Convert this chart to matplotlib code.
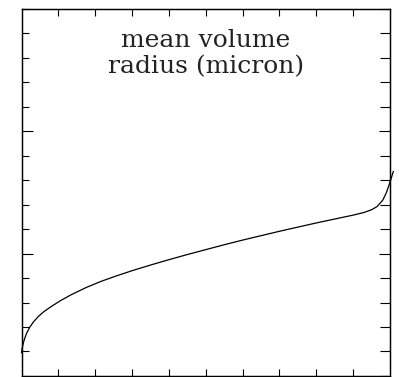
import numpy as np
from matplotlib import pyplot as plt
from matplotlib.ticker import MultipleLocator

# mean volume radius along the normalised coordinate
position = [0.0, 0.02, 0.05, 0.09, 0.14, 0.22, 0.32, 0.45, 0.6, 0.8, 1.05,
            1.35, 1.75, 2.15, 2.6, 3.0, 3.5, 4.0, 4.5, 5.0, 5.5, 6.0, 6.5,
            7.0, 7.5, 8.0, 8.5, 9.0, 9.3, 9.5, 9.65, 9.8, 9.9, 9.97, 10.03,
            10.09]
radius = [0.95, 1.15, 1.35, 1.55, 1.75, 1.98, 2.2, 2.42, 2.62, 2.83, 3.07,
          3.32, 3.61, 3.86, 4.1, 4.3, 4.53, 4.75, 4.96, 5.16, 5.36, 5.55,
          5.73, 5.91, 6.08, 6.25, 6.41, 6.57, 6.68, 6.79, 6.92, 7.17, 7.48,
          7.78, 8.06, 8.35]

x_ticks = np.arange(1, 10)
y_major = [5, 10]
title_lines = ["mean volume", "radius (micron)"]

fig = plt.figure(figsize=(3.99, 3.77), dpi=100)
ax = fig.add_axes([0.0539, 0.0027, 0.9235, 0.9742])

ax.plot(position, radius, color="black", lw=0.9, clip_on=False)

ax.set_xlim(0, 10)
ax.set_ylim(0, 15)

ax.set_xticks(x_ticks)
ax.set_yticks(y_major)
ax.yaxis.set_minor_locator(MultipleLocator(1))
ax.tick_params(axis="x", which="both", direction="in", top=True, bottom=True,
               length=4.8, width=0.8, labelbottom=False)
ax.tick_params(axis="y", which="major", direction="in", left=True, right=False,
               length=8, width=0.8, labelleft=False)
ax.tick_params(axis="y", which="minor", direction="in", left=True, right=False,
               length=5, width=0.8)

# right-hand ticks are a little longer than the left ones
ax2 = ax.twinx()
ax2.set_ylim(0, 15)
ax2.set_yticks(y_major)
ax2.yaxis.set_minor_locator(MultipleLocator(1))
ax2.tick_params(axis="y", which="major", direction="in", length=8, width=0.8,
                labelright=False)
ax2.tick_params(axis="y", which="minor", direction="in", length=7.2, width=0.8)

for a in (ax, ax2):
    for s in a.spines.values():
        s.set_linewidth(0.9)

for line, ypos in zip(title_lines, [0.895, 0.825]):
    ax.text(0.5, ypos, line, transform=ax.transAxes, ha="center",
            va="baseline", fontsize=18, family="DejaVu Serif",
            color="#222222")

fig.savefig("out.png", dpi=100)
